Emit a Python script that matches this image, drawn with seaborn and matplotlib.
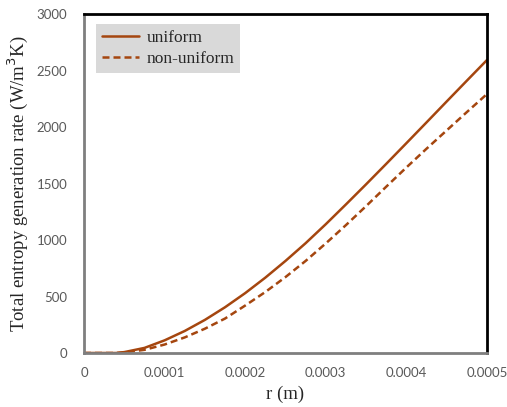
import matplotlib
matplotlib.use("Agg")
import matplotlib.pyplot as plt
import seaborn as sns
import pandas as pd

# radial position (m)
r = [0.0, 0.00002, 0.00004, 0.00005, 0.000075, 0.0001, 0.000125, 0.00015,
     0.000175, 0.0002, 0.000225, 0.00025, 0.000275, 0.0003, 0.000325,
     0.00035, 0.000375, 0.0004, 0.000425, 0.00045, 0.000475, 0.0005]
# total entropy generation rate (W/m^3K)
uniform = [0, 0, 0, 8, 45, 112, 195, 293, 405, 530, 667, 815, 972, 1140,
           1315, 1493, 1674, 1857, 2041, 2226, 2410, 2593]
non_uniform = [0, 0, 0, 5, 28, 75, 138, 215, 305, 420, 540, 672, 815, 970,
               1132, 1300, 1472, 1642, 1808, 1970, 2132, 2292]

x_ticks = [0, 0.0001, 0.0002, 0.0003, 0.0004, 0.0005]
x_tick_labels = ["0", "0.0001", "0.0002", "0.0003", "0.0004", "0.0005"]
y_ticks = [0, 500, 1000, 1500, 2000, 2500, 3000]

df = pd.DataFrame({
    "r": r * 2,
    "S": uniform + non_uniform,
    "case": ["uniform"] * len(r) + ["non-uniform"] * len(r),
})

sns.set_style("white")
plt.rcParams["font.family"] = ["Liberation Serif", "DejaVu Serif"]

color = "#A5460F"
fig = plt.figure(figsize=(5.07, 4.07), dpi=100)
ax = fig.add_axes([84 / 507, 1 - 353 / 407, 403 / 507, 339 / 407])

sns.lineplot(data=df, x="r", y="S", hue="case", style="case",
             palette={"uniform": color, "non-uniform": color},
             dashes={"uniform": "", "non-uniform": (2.8, 1.6)},
             linewidth=1.8, ax=ax)

ax.set_xlim(0, 0.0005)
ax.set_ylim(0, 3000)
ax.set_xticks(x_ticks)
ax.set_xticklabels(x_tick_labels)
ax.set_yticks(y_ticks)
ax.set_yticklabels([str(v) for v in y_ticks])
for lab in ax.get_xticklabels() + ax.get_yticklabels():
    lab.set_family("Lato")
    lab.set_fontsize(9.5)
    lab.set_color("#595959")
ax.tick_params(axis="both", length=0)
ax.tick_params(axis="x", pad=10)
ax.tick_params(axis="y", pad=12)

for side in ["left", "bottom"]:
    ax.spines[side].set_color("#7F7F7F")
    ax.spines[side].set_linewidth(2)
for side in ["top", "right"]:
    ax.spines[side].set_color("black")
    ax.spines[side].set_linewidth(2)
    ax.spines[side].set_visible(True)

ax.set_xlabel("r (m)", fontsize=13.5, labelpad=5)
ax.set_ylabel("Total entropy generation rate (W/m$^3$K)", fontsize=13.5, labelpad=5)

leg = ax.legend(loc="upper left", bbox_to_anchor=(0.03, 0.97), borderaxespad=0,
                frameon=True, fancybox=False, fontsize=12.5, handlelength=2.1,
                handletextpad=0.45, labelspacing=0.25, borderpad=0.35)
leg.get_frame().set_facecolor("#D9D9D9")
leg.get_frame().set_edgecolor("none")
leg.get_frame().set_alpha(1)

fig.savefig("out.png", dpi=100)
